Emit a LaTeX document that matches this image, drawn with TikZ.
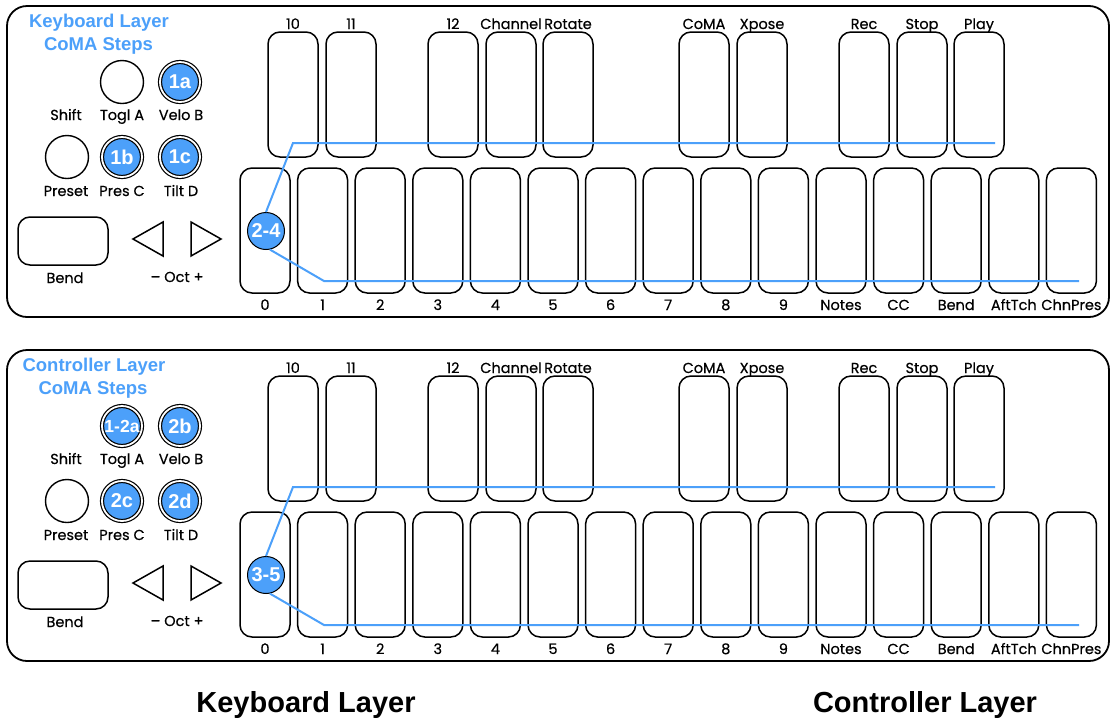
\documentclass[tikz,border=0pt]{standalone}
\usepackage{fontspec}
\setmainfont{Poppins}
\newfontfamily\lblfont{Poppins}[FakeBold=0.4]
\newfontfamily\hfont{Liberation Sans}
\definecolor{cblue}{RGB}{76,160,250}
\tikzset{
  panel/.style={draw=black, line width=1.8pt, rounded corners=20pt},
  keybox/.style={draw=black, line width=1.5pt, rounded corners=12pt, minimum width=50pt, minimum height=125pt, inner sep=0pt},
  lbl/.style={font=\lblfont\fontsize{14.5}{14.5}\selectfont, anchor=base, inner sep=0pt},
  ttl/.style={font=\hfont\bfseries\fontsize{18.5}{18.5}\selectfont, text=cblue, anchor=base, inner sep=0pt},
  plainbtn/.style={circle, draw=black, line width=1.4pt, fill=white, minimum size=43pt, inner sep=0pt},
  stepbtn/.style={circle, draw=black, double=white, double distance=1.8pt, line width=1.2pt, fill=cblue, minimum size=40pt, inner sep=0pt, text=white, font=\hfont\bfseries\fontsize{20}{20}\selectfont},
  rangebtn/.style={circle, draw=black, line width=1pt, fill=cblue, minimum size=37pt, inner sep=0pt, text=white, font=\hfont\bfseries\fontsize{20}{20}\selectfont},
  bendbox/.style={draw=black, line width=1.5pt, rounded corners=12pt, minimum width=90pt, minimum height=48pt, inner sep=0pt},
  tri/.style={draw=black, line width=1.5pt},
  bline/.style={draw=cblue, line width=2pt},
  caption/.style={font=\hfont\bfseries\fontsize{29}{29}\selectfont, anchor=base, inner sep=0pt},
}
\newcommand\kbpanel[3]{% #1 prefix, #2 y offset, #3 range label
  \begin{scope}[shift={(0,#2)}]
    \draw[panel] (7,6) rectangle (1109,317);
    \foreach \x/\lab [count=\i] in {268/10, 326/11, 428/12, 486/Channel, 543/Rotate, 679/CoMA, 737/Xpose, 839/Rec, 897/Stop, 954/Play} {
      \node[keybox] (#1u\i) at (\x+25,94.5) {};
      \node[lbl] (#1ul\i) at (\x+25,29) {\lab};
    }
    \foreach \lab [count=\i from 0] in {0,1,2,3,4,5,6,7,8,9,Notes,CC,Bend,AftTch,ChnPres} {
      \pgfmathsetmacro\kx{265+57.6*\i}
      \node[keybox] (#1l\i) at (\kx,230.5) {};
      \node[lbl] (#1ll\i) at (\kx,310) {\lab};
    }
    \node[lbl] (#1shift) at (66,120) {Shift};
    \node[lbl] (#1togl) at (122,120) {Togl A};
    \node[lbl] (#1velo) at (181,120) {Velo B};
    \node[lbl] (#1preset) at (66,196) {Preset};
    \node[lbl] (#1pres) at (122,196) {Pres C};
    \node[lbl] (#1tilt) at (181,196) {Tilt D};
    \node[plainbtn] (#1presetbtn) at (67,157) {};
    \node[bendbox] (#1bend) at (63,241) {};
    \node[lbl] (#1bendl) at (65,283) {Bend};
    \draw[tri] (133,239) -- (163,222) -- (163,256) -- cycle;
    \draw[tri] (221,239) -- (191,222) -- (191,256) -- cycle;
    \node[lbl] (#1oct) at (177,282) {– Oct +};
    \node[rangebtn] (#1range) at (266,231) {#3};
    \coordinate (#1ta) at (293,143);
    \coordinate (#1tb) at (995,143);
    \coordinate (#1ba) at (324,281);
    \coordinate (#1bb) at (1079,281);
    \draw[bline] (#1range.north) -- (#1ta) -- (#1tb);
    \draw[bline] (#1range.-78) -- (#1ba) -- (#1bb);
  \end{scope}}
\begin{document}
\begin{tikzpicture}[x=1pt,y=-1pt]
  \useasboundingbox (0,0) rectangle (1110,721);
  \fill[white] (0,0) rectangle (1110,721);
  % Keyboard layer panel
  \kbpanel{k}{0}{2-4}
  \node[ttl] (kt1) at (99,27) {Keyboard Layer};
  \node[ttl] (kt2) at (98.5,50) {CoMA Steps};
  \node[plainbtn] (ktoglbtn) at (122,82) {};
  \node[stepbtn] (kvelobtn) at (180,82) {1a};
  \node[stepbtn] (kpresbtn) at (122,157) {1b};
  \node[stepbtn] (ktiltbtn) at (180,157) {1c};
  % Controller layer panel
  \kbpanel{c}{344}{3-5}
  \node[ttl] (ct1) at (94,371) {Controller Layer};
  \node[ttl] (ct2) at (93,394) {CoMA Steps};
  \node[stepbtn, font=\hfont\bfseries\fontsize{17.5}{17.5}\selectfont] (ctoglbtn) at (122,426) {1-2a};
  \node[stepbtn] (cvelobtn) at (180,426) {2b};
  \node[stepbtn] (cpresbtn) at (122,501) {2c};
  \node[stepbtn] (ctiltbtn) at (180,501) {2d};
  % captions
  \node[caption] (cap1) at (306,712) {Keyboard Layer};
  \node[caption] (cap2) at (925,712) {Controller Layer};
\end{tikzpicture}
\end{document}
